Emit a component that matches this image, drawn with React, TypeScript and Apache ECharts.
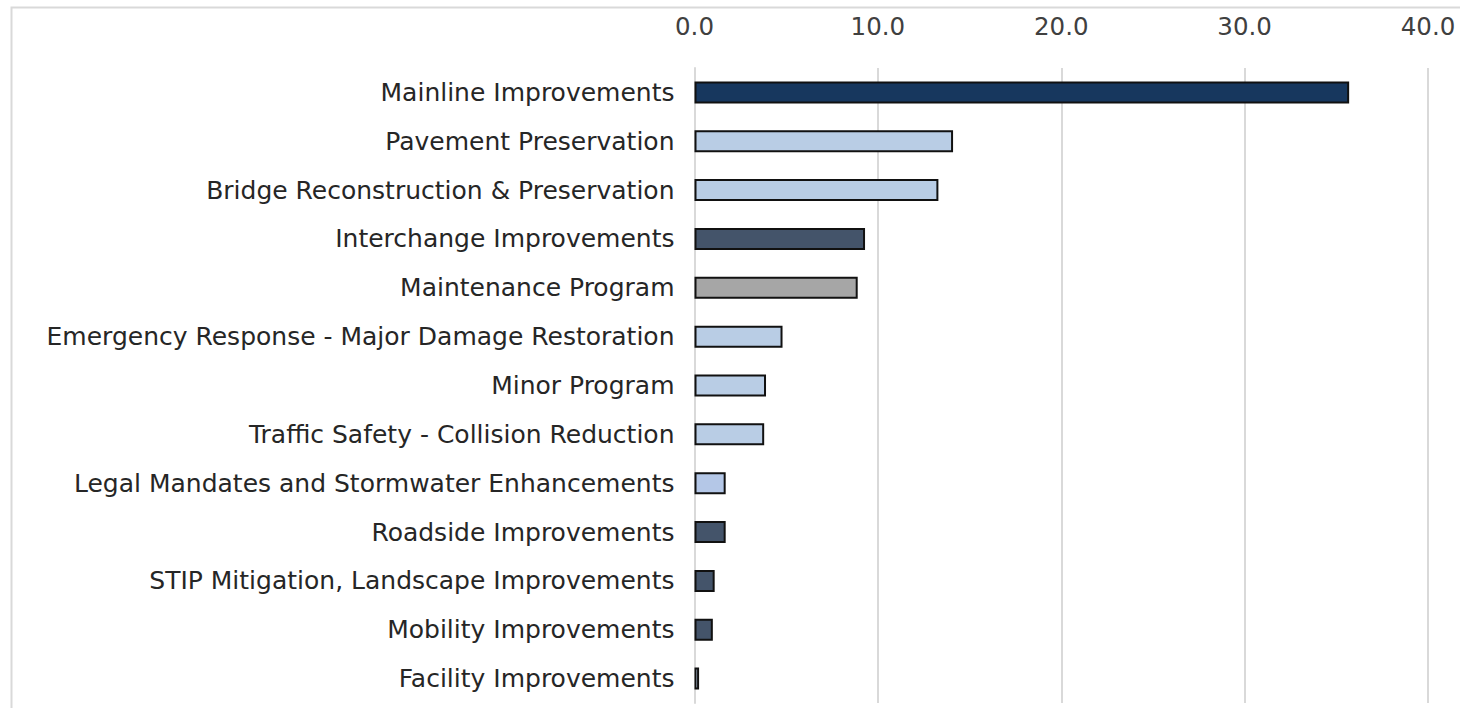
import React, { useEffect, useRef } from "react";
import * as echarts from "echarts";

const categories = [
  "Mainline Improvements",
  "Pavement Preservation",
  "Bridge Reconstruction & Preservation",
  "Interchange Improvements",
  "Maintenance Program",
  "Emergency Response - Major Damage Restoration",
  "Minor Program",
  "Traffic Safety - Collision Reduction",
  "Legal Mandates and Stormwater Enhancements",
  "Roadside Improvements",
  "STIP Mitigation, Landscape Improvements",
  "Mobility Improvements",
  "Facility Improvements",
];

const values = [35.7, 14.1, 13.3, 9.3, 8.9, 4.8, 3.9, 3.8, 1.7, 1.7, 1.1, 1.0, 0.25];

const barColors = [
  "#17375E",
  "#B9CDE5",
  "#B9CDE5",
  "#44546A",
  "#A6A6A6",
  "#B9CDE5",
  "#B9CDE5",
  "#B9CDE5",
  "#B4C7E7",
  "#44546A",
  "#44546A",
  "#44546A",
  "#B9CDE5",
];

const tickValues = [0, 10, 20, 30, 40];

export default function App() {
  const ref = useRef<HTMLDivElement>(null);
  useEffect(() => {
    if (!ref.current) return;
    const chart = echarts.init(ref.current, null, { renderer: "svg" });
    const font = "'DejaVu Sans', sans-serif";
    chart.setOption({
      animation: false,
      backgroundColor: "#ffffff",
      graphic: [
        {
          type: "rect",
          shape: { x: 11.5, y: 7.5, width: 1470, height: 720 },
          style: { fill: "none", stroke: "#d9d9d9", lineWidth: 2 },
          silent: true,
        },
      ],
      grid: { left: 694.5, right: 32, top: 68, bottom: 5 },
      xAxis: {
        type: "value",
        position: "top",
        min: tickValues[0],
        max: tickValues[tickValues.length - 1],
        interval: 10,
        axisLine: { show: false },
        axisTick: { show: false },
        splitLine: { show: true, lineStyle: { color: "#d9d9d9", width: 2 } },
        axisLabel: {
          formatter: (v: number) => v.toFixed(1),
          color: "#404040",
          fontFamily: font,
          fontSize: 24.5,
          margin: 29,
        },
      },
      yAxis: {
        type: "category",
        data: categories,
        inverse: true,
        axisLine: { show: true, lineStyle: { color: "#d9d9d9", width: 2 } },
        axisTick: { show: false },
        axisLabel: {
          color: "#262626",
          fontFamily: font,
          fontSize: 25,
          margin: 20,
        },
      },
      series: [
        {
          type: "bar",
          barWidth: 22,
          data: values.map((v, i) => ({
            value: v,
            itemStyle: {
              color: barColors[i],
              borderColor: "#111111",
              borderWidth: 2,
            },
          })),
        },
      ],
    });
    return () => chart.dispose();
  }, []);
  return (
    <div
      ref={ref}
      style={{ position: "fixed", left: 0, top: 0, width: 1460, height: 708 }}
    />
  );
}
